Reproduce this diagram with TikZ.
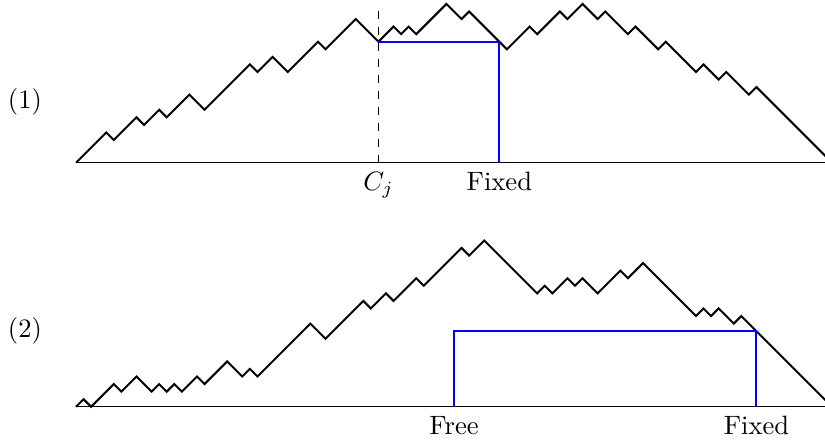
\documentclass[tikz,border=0pt]{standalone}
\begin{document}
\begin{tikzpicture}[x=0.1cm, y=0.1cm,
    lattice/.style={line width=0.75pt, line join=miter},
    axis/.style={line width=0.4pt},
    hook/.style={blue, line width=0.75pt}]
    \useasboundingbox (-10.05,-37.08) rectangle (99.07,21.52);

    % first path
    \coordinate (O1) at (0,0);
    \draw[axis] (O1) -- (100,0);
    \draw[lattice] (O1) \foreach \r in {4,-1,3,-1,2,-1,3,-2,6,-1,2,-2,4,-1,4,-3,2,-1,1,-1,4,-2,1,-5,3,-1,3,-1,2,-2,1,-3,1,-3,1,-4,1,-2,1,-3,1,-10} { -- ++({abs(\r)},\r) };

    \coordinate (cjTop) at (40,20.1);
    \coordinate (cjBase) at (40,0);
    \coordinate (cjCorner) at (40,16);
    \coordinate (fixACorner) at (56,16);
    \coordinate (fixABase) at (56,0);
    \draw[dashed, axis] (cjBase) -- (cjTop);
    \draw[hook] (cjCorner) -- (fixACorner) -- (fixABase);
    \node[below] (cj) at (cjBase) {\(C_j\)};
    \node[below] (fixA) at (fixABase) {Fixed};
    \node (lab1) at (-6.75,8) {(1)};

    % second path
    \coordinate (O2) at (0,-32.28);
    \draw[axis] (O2) -- ++(100,0);
    \draw[lattice] (O2) \foreach \r in {1,-1,3,-1,2,-2,1,-1,1,-1,2,-1,3,-2,1,-1,7,-2,5,-1,2,-1,3,-1,5,-1,2,-7,1,-1,2,-1,1,-2,3,-1,2,-7,1,-1,1,-2,1,-12} { -- ++({abs(\r)},\r) };

    \coordinate (freeBase) at (50,-32.28);
    \coordinate (freeCorner) at (50,-22.28);
    \coordinate (fixBCorner) at (90,-22.28);
    \coordinate (fixBBase) at (90,-32.28);
    \draw[hook] (freeBase) -- (freeCorner) -- (fixBCorner) -- (fixBBase);
    \node[below] (free) at (freeBase) {Free};
    \node[below] (fixB) at (fixBBase) {Fixed};
    \node (lab2) at (-6.75,-22.3) {(2)};
\end{tikzpicture}
\end{document}
